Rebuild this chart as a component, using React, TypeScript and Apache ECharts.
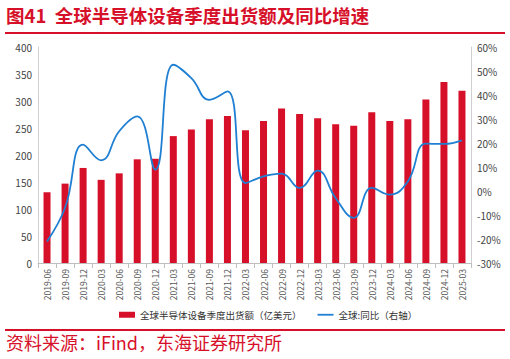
import React, { useEffect, useRef } from "react";
import * as echarts from "echarts";

const categories = [
  "2019-06", "2019-09", "2019-12", "2020-03", "2020-06", "2020-09", "2020-12",
  "2021-03", "2021-06", "2021-09", "2021-12", "2022-03", "2022-06", "2022-09",
  "2022-12", "2023-03", "2023-06", "2023-09", "2023-12", "2024-03", "2024-06",
  "2024-09", "2024-12", "2025-03",
];
const shipments = [
  131, 147, 176, 154, 166, 192, 193, 235, 247, 266, 272, 246, 263, 286, 276,
  268, 257, 254, 279, 263, 266, 303, 335, 319,
];
const yoy = [
  -21, -7, 19.3, 12.8, 24.9, 31.1, 8.9, 52.6, 47, 38, 41.5, 3.3, 6.1, 7.2, 1.3,
  8.5, -3, -11.2, 1.3, -1.5, 4, 19.7, 19.6, 21.1,
];
const barName = "全球半导体设备季度出货额（亿美元）";
const lineName = "全球:同比（右轴）";
const titleText = "图41  全球半导体设备季度出货额及同比增速";
const sourceText = "资料来源：iFind，东海证券研究所";

const RED = "#d7102a";
const BLUE = "#1f7fd2";
const FONT = "'Noto Sans CJK SC', 'Noto Sans', sans-serif";

export default function App() {
  const ref = useRef<HTMLDivElement>(null);
  useEffect(() => {
    if (!ref.current) return;
    const chart = echarts.init(ref.current, undefined, { renderer: "svg" });
    chart.setOption({
      animation: false,
      textStyle: { fontFamily: FONT },
      grid: { left: 38, right: 39, top: 47, bottom: 96 },
      legend: {
        left: 114,
        top: 305,
        itemGap: 16,
        itemWidth: 16,
        itemHeight: 6,
        textStyle: { fontSize: 9.5, color: "#333", fontFamily: FONT },
        data: [
          { name: barName, icon: "rect" },
          { name: lineName, icon: "path://M0,0H16V1.8H0Z" },
        ],
      },
      xAxis: {
        type: "category",
        data: categories,
        axisLine: { lineStyle: { color: "#bfbfbf" } },
        axisTick: { show: true, alignWithLabel: false, lineStyle: { color: "#bfbfbf" } },
        axisLabel: { rotate: 90, fontSize: 8.5, color: "#555", interval: 0, margin: 6 },
      },
      yAxis: [
        {
          type: "value",
          min: 0,
          max: 400,
          interval: 50,
          axisLine: { show: true, lineStyle: { color: "#d0d0d0" } },
          axisTick: { show: false },
          splitLine: { show: false },
          axisLabel: { fontSize: 10, color: "#444", margin: 6 },
        },
        {
          type: "value",
          min: -30,
          max: 60,
          interval: 10,
          axisLine: { show: true, lineStyle: { color: "#d0d0d0" } },
          axisTick: { show: false },
          splitLine: { show: false },
          axisLabel: { fontSize: 10, color: "#444", margin: 6, formatter: "{value}%" },
        },
      ],
      series: [
        {
          name: barName,
          type: "bar",
          data: shipments,
          barWidth: 7,
          itemStyle: { color: RED },
        },
        {
          name: lineName,
          type: "line",
          yAxisIndex: 1,
          data: yoy,
          smooth: 0.45,
          symbol: "none",
          lineStyle: { color: BLUE, width: 1.8 },
          itemStyle: { color: BLUE },
        },
      ],
      graphic: [
        {
          type: "text",
          left: 6,
          top: 6,
          style: { text: titleText, fill: RED, font: `bold 18.5px ${FONT}` },
        },
        {
          type: "rect",
          shape: { x: 5, y: 32, width: 500, height: 2 },
          style: { fill: RED },
        },
        {
          type: "rect",
          shape: { x: 5, y: 329, width: 500, height: 2 },
          style: { fill: RED },
        },
        {
          type: "text",
          left: 6,
          top: 333,
          style: { text: sourceText, fill: RED, font: `18px ${FONT}` },
        },
      ],
    });
    return () => chart.dispose();
  }, []);
  return (
    <div
      ref={ref}
      style={{ position: "fixed", left: 0, top: 0, width: 510, height: 359, background: "#fff" }}
    />
  );
}
